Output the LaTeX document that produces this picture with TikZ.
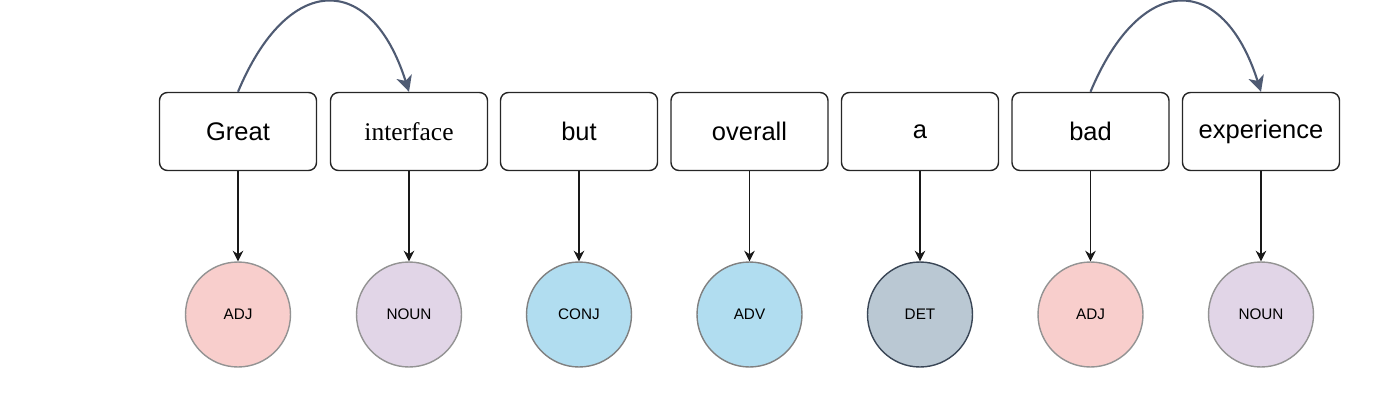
\documentclass[tikz,border=0pt]{standalone}
\usepackage{fontspec}
\setmainfont{Liberation Sans}
\newfontfamily\serifword{Liberation Serif}
\usetikzlibrary{arrows.meta}
\definecolor{adjfill}{HTML}{F8CECC}
\definecolor{nounfill}{HTML}{E1D5E7}
\definecolor{bluefill}{HTML}{B1DDF0}
\definecolor{detfill}{HTML}{BAC8D3}
\definecolor{detline}{HTML}{3A4656}
\definecolor{deplink}{HTML}{4F5B73}
\begin{document}
\begin{tikzpicture}[x=0.02cm,y=-0.02cm,
  word/.style = {draw=black!85,line width=0.8pt,rounded corners=4.5pt,fill=white,
    minimum width=3.14cm,minimum height=1.56cm,font=\fontsize{14.5}{17}\selectfont},
  tag/.style = {circle,draw=gray!85,line width=0.8pt,minimum size=2.1cm,inner sep=0pt,
    font=\fontsize{8.7}{10}\selectfont},
  link/.style = {-{Stealth[length=6pt,width=6pt]},line width=0.7pt,black!90},
  dep/.style = {-{Stealth[length=9pt,width=9pt,inset=2.5pt]},line width=1.2pt,deplink}]
   \useasboundingbox (0,0) rectangle (1400,406);
   % words
   \node[word] (w1) at (238,131.5) {Great};
   \node[word] (w2) at (409,131.5) {\serifword interface};
   \node[word] (w3) at (579,131.5) {but};
   \node[word] (w4) at (749.5,131.5) {overall};
   \node[word] (w5) at (920,131.5) {a};
   \node[word] (w6) at (1090.5,131.5) {bad};
   \node[word] (w7) at (1261,131.5) {experience};
   % tags
   \node[tag,fill=adjfill] (p1) at (238,314.5) {ADJ};
   \node[tag,fill=nounfill] (p2) at (409,314.5) {NOUN};
   \node[tag,fill=bluefill,draw=gray] (p3) at (579,314.5) {CONJ};
   \node[tag,fill=bluefill,draw=gray] (p4) at (749.5,314.5) {ADV};
   \node[tag,fill=detfill,draw=detline] (p5) at (920,314.5) {DET};
   \node[tag,fill=adjfill] (p6) at (1090.5,314.5) {ADJ};
   \node[tag,fill=nounfill] (p7) at (1261,314.5) {NOUN};
   \draw[link] (w1) -- (p1);
   \draw[link] (w2) -- (p2);
   \draw[link] (w3) -- (p3);
   \draw[link] (w4) -- (p4);
   \draw[link] (w5) -- (p5);
   \draw[link] (w6) -- (p6);
   \draw[link] (w7) -- (p7);
   % dependencies
   \draw[dep] (w1.north) .. controls +(50,-120) and +(-38,-120) .. (w2.north);
   \draw[dep] (w6.north) .. controls +(50,-120) and +(-38,-120) .. (w7.north);
\end{tikzpicture}
\end{document}
